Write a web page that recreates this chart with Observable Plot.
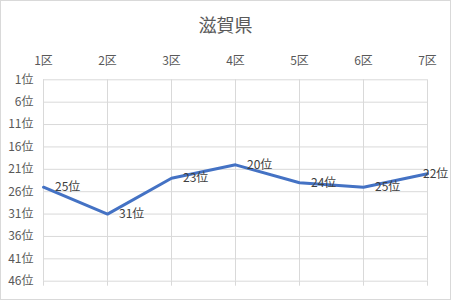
<!DOCTYPE html>
<html>
<head>
<meta charset="utf-8">
<script src="https://cdn.jsdelivr.net/npm/d3@7"></script>
<script src="https://cdn.jsdelivr.net/npm/@observablehq/plot@0.6"></script>
<style>
  html, body { margin: 0; padding: 0; background: #fff; }
  #wrap { position: relative; width: 451px; height: 300px; overflow: hidden; background: #fff;
          font-family: "Noto Sans CJK JP", "Noto Sans", sans-serif; }
  #border { position: absolute; left: 0; top: 0; width: 449px; height: 298px; border: 1px solid #d9d9d9; pointer-events: none; }
  #title { position: absolute; left: 0; width: 451px; top: 14px; text-align: center; font-size: 18px; line-height: 20px; color: #595959; }
  #chart { position: absolute; left: 0; top: 40px; }
</style>
</head>
<body>
<div id="wrap">
  <div id="title">滋賀県</div>
  <div id="chart"></div>
  <div id="border"></div>
</div>
<script>
const districts = ["1区", "2区", "3区", "4区", "5区", "6区", "7区"];
const ranks = [25, 31, 23, 20, 24, 25, 22];
const rankTicks = [1, 6, 11, 16, 21, 26, 31, 36, 41, 46];

const data = districts.map((d, i) => ({district: d, rank: ranks[i]}));
const lastIdx = data.length - 1;

const chart = Plot.plot({
  width: 451,
  height: 260,
  marginLeft: 43,
  marginRight: 24,
  marginTop: 39.3,
  marginBottom: 19.3,
  style: {fontFamily: '"Noto Sans CJK JP", "Noto Sans", sans-serif', fontSize: "12px", background: "transparent"},
  x: {type: "point", domain: districts, padding: 0},
  y: {domain: [1, 46], reverse: true},
  marks: [
    Plot.gridY(rankTicks, {stroke: "#d9d9d9", strokeOpacity: 1, strokeWidth: 1}),
    Plot.ruleX(districts, {x: d => d, y1: 1, y2: 46, stroke: "#d9d9d9", strokeWidth: 1}),
    Plot.axisX({anchor: "bottom", tickSize: 5, stroke: "#d9d9d9", strokeOpacity: 1, tickFormat: () => "", label: null}),
    Plot.axisX({anchor: "top", tickSize: 0, tickPadding: 15, label: null, fill: "#595959", fontSize: 12}),
    Plot.axisY({ticks: rankTicks, tickSize: 0, tickPadding: 10, tickFormat: d => d + "位", label: null, fill: "#595959", fontSize: 12}),
    Plot.line(data, {x: "district", y: "rank", stroke: "#4472C4", strokeWidth: 3, strokeLinejoin: "round", strokeLinecap: "round"}),
    Plot.text(data.slice(0, lastIdx), {x: "district", y: "rank", text: d => d.rank + "位", textAnchor: "start", dx: 11.5, fill: "#404040", fontSize: 12}),
    Plot.text(data.slice(lastIdx), {x: "district", y: "rank", text: d => d.rank + "位", textAnchor: "start", dx: -4.5, fill: "#404040", fontSize: 12})
  ]
});
document.getElementById("chart").appendChild(chart);
</script>
</body>
</html>
